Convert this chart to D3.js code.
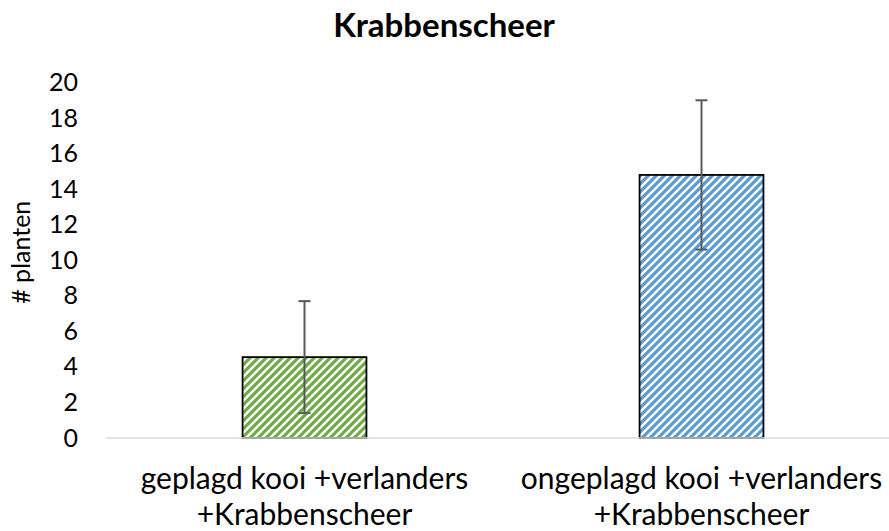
<!DOCTYPE html>
<html>
<head>
<meta charset="utf-8">
<script src="https://d3js.org/d3.v7.min.js"></script>
<style>
  body { margin: 0; background: #fff; }
  svg text { font-family: Lato, "Open Sans", sans-serif; fill: #000; }
</style>
</head>
<body>
<svg id="chart" width="889" height="531"></svg>
<script>
// data
const categories = [
  ["geplagd kooi +verlanders", "+Krabbenscheer"],
  ["ongeplagd kooi +verlanders", "+Krabbenscheer"]
];
const values = [4.55, 14.8];
const errors = [3.15, 4.2];
const colors = ["#70ad47", "#5b9bd5"];
const yTicks = [0, 2, 4, 6, 8, 10, 12, 14, 16, 18, 20];

const svg = d3.select('#chart');
const W = 889, H = 531;
const plotLeft = 106, plotRight = 900, plotTop = 82.5, plotBottom = 438;

// stripe patterns, wide upward diagonal
const defs = svg.append('defs');
colors.forEach((c, i) => {
  const p = defs.append('pattern')
    .attr('id', 'stripe' + i)
    .attr('patternUnits', 'userSpaceOnUse')
    .attr('width', 8).attr('height', 8);
  p.append('rect').attr('width', 8).attr('height', 8).attr('fill', '#fff');
  p.append('path')
    .attr('d', 'M-2,2 L2,-2 M0,8 L8,0 M6,10 L10,6')
    .attr('stroke', c)
    .attr('stroke-width', 3.2);
});

const x = d3.scaleBand()
  .domain(d3.range(categories.length))
  .range([plotLeft, plotRight])
  .paddingInner(0.688)
  .paddingOuter(0.344);

const y = d3.scaleLinear().domain([0, 20]).range([plotBottom, plotTop]);

// title
svg.append('text')
  .attr('x', 444).attr('y', 37)
  .attr('text-anchor', 'middle')
  .style('font-size', '33px')
  .style('font-weight', 'bold')
  .text('Krabbenscheer');

// y axis labels
const yAxis = d3.axisLeft(y).tickValues(yTicks).tickSize(0).tickPadding(0);
const gy = svg.append('g').attr('transform', 'translate(78,0)').call(yAxis);
gy.select('.domain').remove();
gy.selectAll('text')
  .style('font-size', '25px')
  .style('font-family', 'Lato, sans-serif')
  .attr('fill', '#000');

svg.append('text')
  .attr('transform', 'translate(30,' + ((plotTop + plotBottom) / 2 - 8) + ') rotate(-90)')
  .attr('text-anchor', 'middle')
  .style('font-size', '25px')
  .text('# planten');

// bars
svg.selectAll('rect.bar')
  .data(values)
  .enter()
  .append('rect')
  .attr('class', 'bar')
  .attr('x', (d, i) => x(i))
  .attr('y', d => y(d))
  .attr('width', x.bandwidth())
  .attr('height', d => y(0) - y(d))
  .attr('fill', (d, i) => 'url(#stripe' + i + ')')
  .attr('stroke', '#000')
  .attr('stroke-width', 1.8);

// x axis line
svg.append('line')
  .attr('x1', plotLeft).attr('x2', W)
  .attr('y1', y(0)).attr('y2', y(0))
  .attr('stroke', '#d9d9d9')
  .attr('stroke-width', 1.5);

// error bars
const eb = svg.selectAll('g.err')
  .data(values)
  .enter()
  .append('g')
  .attr('class', 'err')
  .attr('stroke', '#595959')
  .attr('stroke-width', 2);
const cx = i => x(i) + x.bandwidth() / 2;
eb.append('line')
  .attr('x1', (d, i) => cx(i)).attr('x2', (d, i) => cx(i))
  .attr('y1', (d, i) => y(d + errors[i])).attr('y2', (d, i) => y(d - errors[i]));
eb.append('line')
  .attr('x1', (d, i) => cx(i) - 6).attr('x2', (d, i) => cx(i) + 6)
  .attr('y1', (d, i) => y(d + errors[i])).attr('y2', (d, i) => y(d + errors[i]));
eb.append('line')
  .attr('x1', (d, i) => cx(i) - 6).attr('x2', (d, i) => cx(i) + 6)
  .attr('y1', (d, i) => y(d - errors[i])).attr('y2', (d, i) => y(d - errors[i]));

// category labels
const cl = svg.selectAll('text.cat')
  .data(categories)
  .enter()
  .append('text')
  .attr('class', 'cat')
  .attr('text-anchor', 'middle')
  .style('font-size', '30px');
cl.selectAll('tspan')
  .data((d, i) => d.map(s => ({ s, i })))
  .enter()
  .append('tspan')
  .attr('x', d => cx(d.i))
  .attr('y', (d, j) => 489 + j * 36)
  .text(d => d.s);
</script>
</body>
</html>
